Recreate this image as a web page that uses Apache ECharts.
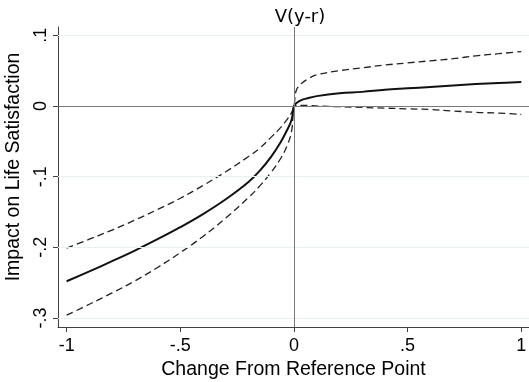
<!DOCTYPE html>
<html>
<head>
<meta charset="utf-8">
<script src="https://cdn.jsdelivr.net/npm/echarts@6/dist/echarts.min.js"></script>
<style>
html,body{margin:0;padding:0;background:#fff;}
#chart{width:529px;height:382px;}
</style>
</head>
<body>
<div id="chart"></div>
<script>
var xValues = [-1, -0.9, -0.8, -0.7, -0.6, -0.5, -0.4, -0.3, -0.2, -0.15, -0.1, -0.06, -0.03, -0.01, 0,
               0.01, 0.03, 0.06, 0.1, 0.2, 0.3, 0.4, 0.5, 0.6, 0.7, 0.8, 0.9, 1];
var estimate = [-0.248, -0.234, -0.2195, -0.2045, -0.1885, -0.1715, -0.153, -0.132, -0.1075, -0.0915, -0.0715, -0.052, -0.034, -0.019, 0,
                0.004, 0.008, 0.011, 0.014, 0.018, 0.020, 0.023, 0.025, 0.027, 0.029, 0.031, 0.0325, 0.034];
var upperCI = [-0.201, -0.1885, -0.1755, -0.1615, -0.1465, -0.1305, -0.1125, -0.093, -0.0715, -0.0595, -0.044, -0.031, -0.019, -0.009, 0,
               0.022, 0.031, 0.038, 0.044, 0.050, 0.054, 0.058, 0.061, 0.064, 0.067, 0.071, 0.074, 0.077];
var lowerCI = [-0.296, -0.2805, -0.2645, -0.2475, -0.2285, -0.2075, -0.1845, -0.1585, -0.1295, -0.113, -0.0935, -0.075, -0.056, -0.035, 0,
               0.001, 0.001, 0.001, 0.000, -0.001, -0.002, -0.003, -0.004, -0.005, -0.007, -0.009, -0.010, -0.012];
var xTickValues = [-1, -0.5, 0, 0.5, 1];
var xTickLabels = ['-1', '-.5', '0', '.5', '1'];
var yTickValues = [0.1, 0, -0.1, -0.2, -0.3];
var yTickLabels = ['.1', '0', '-.1', '-.2', '-.3'];
var gridValues = [0.1, -0.1, -0.2, -0.3];
var titleText = 'V(y-r)';
var xTitle = 'Change From Reference Point';
var yTitle = 'Impact on Life Satisfaction';

function pairs(ys) { return xValues.map(function (x, i) { return [x, ys[i]]; }); }
function lbl(vals, labels) { return function (v) { for (var i = 0; i < vals.length; i++) { if (Math.abs(vals[i] - v) < 1e-9) return labels[i]; } return ''; }; }

var FONT = 'Liberation Sans, Arial, sans-serif';
var chart = echarts.init(document.getElementById('chart'), null, {renderer: 'canvas'});
chart.setOption({
  animation: false,
  backgroundColor: '#ffffff',
  title: {
    text: titleText, left: 295, top: 3, textAlign: 'center',
    textStyle: {fontFamily: 'DejaVu Sans, sans-serif', fontSize: 18, fontWeight: 'normal', color: '#000'}
  },
  grid: {left: 58, right: 0, top: 27, bottom: 55, containLabel: false, outerBoundsMode: 'none'},
  xAxis: {
    type: 'value', min: -1.038, max: 1.034,
    name: xTitle, nameLocation: 'middle', nameGap: 28,
    nameTextStyle: {fontFamily: FONT, fontSize: 19.5, color: '#000'},
    axisLine: {show: true, onZero: false, lineStyle: {color: '#404040', width: 1}},
    axisTick: {show: true, length: 5, customValues: xTickValues, lineStyle: {color: '#404040'}},
    axisLabel: {show: true, customValues: xTickValues, margin: 10, formatter: lbl(xTickValues, xTickLabels),
                fontFamily: FONT, fontSize: 18, color: '#000'},
    splitLine: {show: false}
  },
  yAxis: {
    type: 'value', min: -0.3127, max: 0.1118,
    name: yTitle, nameLocation: 'middle', nameGap: 33, nameRotate: 90,
    nameTextStyle: {fontFamily: FONT, fontSize: 19.5, color: '#000', padding: [0, 0, 0, 20]},
    axisLine: {show: true, onZero: false, lineStyle: {color: '#404040', width: 1}},
    axisTick: {show: true, length: 5, customValues: yTickValues, lineStyle: {color: '#404040'}},
    axisLabel: {show: true, customValues: yTickValues, rotate: 90, margin: 8, formatter: lbl(yTickValues, yTickLabels),
                fontFamily: FONT, fontSize: 18, color: '#000'},
    splitLine: {show: false}
  },
  series: [
    {
      type: 'line', data: [], silent: true, z: 1,
      markLine: {
        silent: true, symbol: ['none', 'none'], label: {show: false}, animation: false,
        lineStyle: {color: '#e8f0f1', width: 1, type: 'solid'},
        data: gridValues.map(function (v) { return {yAxis: v}; })
      }
    },
    {
      type: 'line', data: [], silent: true, z: 2,
      markLine: {
        silent: true, symbol: ['none', 'none'], label: {show: false}, animation: false,
        lineStyle: {color: '#7a7a7a', width: 1, type: 'solid'},
        data: [{yAxis: 0}, {xAxis: 0}]
      }
    },
    {
      type: 'line', data: pairs(upperCI), showSymbol: false, z: 3, smooth: 0.4,
      lineStyle: {color: '#222', width: 1.3, type: [7, 4]}
    },
    {
      type: 'line', data: pairs(lowerCI), showSymbol: false, z: 3, smooth: 0.4,
      lineStyle: {color: '#222', width: 1.3, type: [7, 4]}
    },
    {
      type: 'line', data: pairs(estimate), showSymbol: false, z: 4, smooth: 0.4,
      lineStyle: {color: '#111', width: 2, type: 'solid'}
    }
  ]
});
</script>
</body>
</html>
